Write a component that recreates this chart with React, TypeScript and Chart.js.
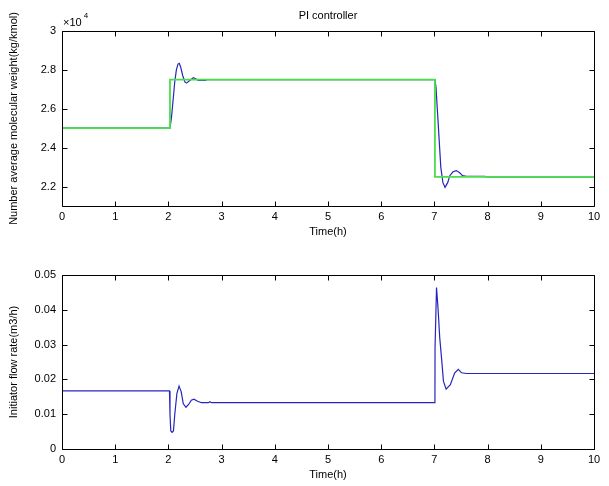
import { useEffect, useRef } from "react";
import { Chart, registerables } from "chart.js";

Chart.register(...registerables);

const FONT = "'Liberation Sans', Arial, sans-serif";

// ---- data ----
const xTickValues = [0, 1, 2, 3, 4, 5, 6, 7, 8, 9, 10];

const mwTickValues = [22000, 24000, 26000, 28000, 30000];
const mwTickLabels = ["2.2", "2.4", "2.6", "2.8", "3"];

const flowTickValues = [0, 0.01, 0.02, 0.03, 0.04, 0.05];
const flowTickLabels = ["0", "0.01", "0.02", "0.03", "0.04", "0.05"];

// set point of number average molecular weight (kg/kmol)
const setpointTime = [0, 2.03, 2.03, 7.01, 7.01, 10];
const setpointMw = [25000, 25000, 27500, 27500, 22500, 22500];

// controlled number average molecular weight (kg/kmol)
const mwTime = [
  0, 2.03, 2.06, 2.09, 2.12, 2.15, 2.18, 2.205, 2.23, 2.27, 2.31, 2.34, 2.4,
  2.47, 2.53, 2.56, 2.7, 2.72, 7.01, 7.03, 7.07, 7.12, 7.16, 7.2, 7.25, 7.29,
  7.35, 7.41, 7.47, 7.53, 7.6, 7.67, 7.95, 7.97, 10,
];
const mwValue = [
  25000, 25000, 25600, 26500, 27400, 28000, 28300, 28340, 28150, 27700, 27380,
  27320, 27450, 27600, 27520, 27460, 27460, 27500, 27500, 27100, 25300, 23000,
  22200, 21960, 22200, 22560, 22760, 22820, 22720, 22560, 22520, 22530, 22530,
  22500, 22500,
];

// initiator flow rate (m3/h)
const flowTime = [
  0, 2.02, 2.03, 2.045, 2.07, 2.095, 2.12, 2.16, 2.2, 2.24, 2.28, 2.33, 2.38,
  2.43, 2.48, 2.54, 2.62, 2.75, 2.78, 2.81, 7.01, 7.012, 7.04, 7.07, 7.1,
  7.137, 7.17, 7.22, 7.3, 7.38, 7.45, 7.51, 7.6, 10,
];
const flowValue = [
  0.0167, 0.0167, 0.01, 0.0052, 0.0048, 0.0052, 0.01, 0.016, 0.0181, 0.0165,
  0.013, 0.012, 0.0128, 0.014, 0.0143, 0.0138, 0.0133, 0.0133, 0.0136, 0.0133,
  0.0133, 0.029, 0.0464, 0.04, 0.032, 0.0256, 0.0195, 0.0172, 0.0185, 0.0218,
  0.0229, 0.0219, 0.0217, 0.0217,
];

const BLUE = "#2626bc";
const GREEN = "#48e048";

const boxPlugin = {
  id: "matlabBox",
  afterDraw(chart: any) {
    const { ctx, chartArea: a, scales } = chart;
    const xs = scales.x;
    const ys = scales.y;
    const L = Math.round(a.left) + 0.5;
    const R = Math.round(a.right) + 0.5;
    const T = Math.round(a.top) + 0.5;
    const B = Math.round(a.bottom) + 0.5;
    ctx.save();
    ctx.strokeStyle = "#000";
    ctx.lineWidth = 1;
    ctx.beginPath();
    ctx.rect(L, T, R - L, B - T);
    const tl = 5;
    xs.ticks.forEach((t: any) => {
      const px = Math.round(xs.getPixelForValue(t.value)) + 0.5;
      ctx.moveTo(px, B);
      ctx.lineTo(px, B - tl);
      ctx.moveTo(px, T);
      ctx.lineTo(px, T + tl);
    });
    ys.ticks.forEach((t: any) => {
      const py = Math.round(ys.getPixelForValue(t.value)) + 0.5;
      ctx.moveTo(L, py);
      ctx.lineTo(L + tl, py);
      ctx.moveTo(R, py);
      ctx.lineTo(R - tl, py);
    });
    ctx.stroke();

    const opts = chart.options.plugins.matlabBox || {};
    if (opts.title) {
      ctx.fillStyle = "#000";
      ctx.font = `11px ${FONT}`;
      ctx.textAlign = "center";
      ctx.textBaseline = "middle";
      ctx.fillText(opts.title, (a.left + a.right) / 2, 15.5);
    }
    if (opts.exponent) {
      ctx.fillStyle = "#000";
      ctx.font = `11px ${FONT}`;
      ctx.textAlign = "left";
      ctx.textBaseline = "alphabetic";
      const base = "\u00d710";
      ctx.fillText(base, 63, 26);
      const w = ctx.measureText(base).width;
      ctx.font = `8px ${FONT}`;
      ctx.fillText(opts.exponent, 63 + w + 2, 18);
    }
    ctx.restore();
  },
};

function makeConfig(
  datasets: any[],
  yMin: number,
  yMax: number,
  yTicks: number[],
  yLabels: string[],
  yTitle: string,
  topPad: number,
  extra: any
): any {
  return {
    type: "line",
    data: { datasets },
    plugins: [boxPlugin],
    options: {
      animation: false,
      responsive: false,
      devicePixelRatio: 1,
      layout: { padding: { top: topPad, right: 15, left: 0, bottom: 0 } },
      elements: { point: { radius: 0 }, line: { tension: 0 } },
      plugins: {
        legend: { display: false },
        tooltip: { enabled: false },
        matlabBox: extra,
      },
      scales: {
        x: {
          type: "linear",
          min: 0,
          max: 10,
          afterBuildTicks: (s: any) => {
            s.ticks = xTickValues.map((v) => ({ value: v }));
          },
          afterFit: (s: any) => {
            s.height = 37;
          },
          ticks: {
            autoSkip: false,
            maxRotation: 0,
            padding: 4,
            color: "#000",
            font: { family: FONT, size: 11 },
            callback: (v: any) => String(v),
          },
          grid: { display: false, drawTicks: false },
          border: { display: false },
          title: {
            display: true,
            text: "Time(h)",
            color: "#000",
            font: { family: FONT, size: 11 },
            padding: { top: 0, bottom: 4 },
          },
        },
        y: {
          type: "linear",
          min: yMin,
          max: yMax,
          afterBuildTicks: (s: any) => {
            s.ticks = yTicks.map((v) => ({ value: v }));
          },
          afterFit: (s: any) => {
            s.width = 62;
          },
          ticks: {
            autoSkip: false,
            padding: 6,
            color: "#000",
            font: { family: FONT, size: 11 },
            callback: (v: any) => {
              const i = yTicks.findIndex((t) => Math.abs(t - v) < 1e-9);
              return i >= 0 ? yLabels[i] : "";
            },
          },
          grid: { display: false, drawTicks: false },
          border: { display: false },
          title: {
            display: true,
            text: yTitle,
            color: "#000",
            font: { family: FONT, size: 11 },
            padding: { top: 7, bottom: 0 },
          },
        },
      },
    },
  };
}

function toPoints(xs: number[], ys: number[]) {
  return xs.map((x, i) => ({ x, y: ys[i] }));
}

export default function App() {
  const topRef = useRef<HTMLCanvasElement | null>(null);
  const botRef = useRef<HTMLCanvasElement | null>(null);

  useEffect(() => {
    const top = new Chart(
      topRef.current as HTMLCanvasElement,
      makeConfig(
        [
          {
            label: "Set point",
            data: toPoints(setpointTime, setpointMw),
            borderColor: GREEN,
            borderWidth: 1.8,
            fill: false,
          },
          {
            label: "Mn",
            data: toPoints(mwTime, mwValue),
            borderColor: BLUE,
            borderWidth: 1.2,
            fill: false,
          },
        ],
        21000,
        30000,
        mwTickValues,
        mwTickLabels,
        "Number average molecular weight(kg/kmol)",
        31,
        { title: "PI controller", exponent: "4" }
      )
    );
    const bot = new Chart(
      botRef.current as HTMLCanvasElement,
      makeConfig(
        [
          {
            label: "Initiator flow rate",
            data: toPoints(flowTime, flowValue),
            borderColor: BLUE,
            borderWidth: 1.2,
            fill: false,
          },
        ],
        0,
        0.05,
        flowTickValues,
        flowTickLabels,
        "Initiator flow rate(m3/h)",
        32,
        {}
      )
    );
    return () => {
      top.destroy();
      bot.destroy();
    };
  }, []);

  return (
    <div
      style={{
        position: "fixed",
        left: 0,
        top: 0,
        width: 609,
        height: 486,
        background: "#fff",
      }}
    >
      <canvas
        ref={topRef}
        width={609}
        height={243}
        style={{ display: "block", width: 609, height: 243 }}
      />
      <canvas
        ref={botRef}
        width={609}
        height={243}
        style={{ display: "block", width: 609, height: 243 }}
      />
    </div>
  );
}
